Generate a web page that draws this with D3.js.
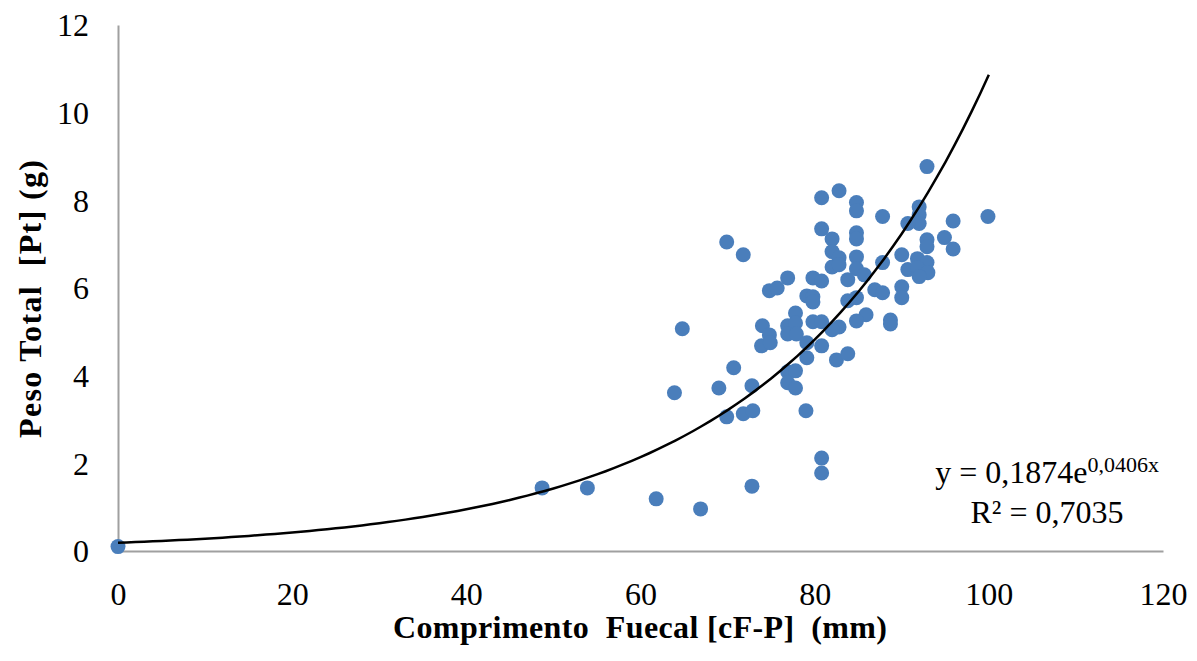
<!DOCTYPE html>
<html>
<head>
<meta charset="utf-8">
<script src="https://cdn.jsdelivr.net/npm/d3@7"></script>
<style>
  body { margin: 0; background: #fff; }
  svg { display: block; }
  text { font-family: "Liberation Serif", "Times New Roman", serif; fill: #000; }
  .title { white-space: pre; font-weight: bold; }
</style>
</head>
<body>
<div id="chart"></div>
<script>
// Comprimento fuecal (mm) vs peso total (g)
const comprimento = [
  0, 48.7, 53.9, 61.8, 66.9, 72.8, 80.8, 80.8, 63.9, 64.8,
  69.9, 71.8, 80.8, 82.8, 80.8, 82.0, 82.0, 82.0, 76.9, 74.8,
  75.7, 79.8, 80.8, 79.1, 79.8, 79.8, 77.8, 74.0, 76.9, 77.8,
  79.8, 80.8, 74.8, 76.9, 77.9, 73.9, 74.9, 79.1, 80.8, 79.1,
  82.5, 70.7, 76.9, 77.8, 76.9, 77.8, 72.8, 69.0, 69.9, 71.8,
  72.9, 79.0, 92.9, 84.8, 84.8, 87.8, 92.0, 92.0, 92.0, 90.7,
  95.9, 99.9, 84.8, 84.8, 82.8, 82.8, 84.8, 87.8, 90.0, 92.9,
  92.9, 94.9, 95.9, 91.8, 92.9, 90.7, 91.8, 93.0, 92.0, 84.8,
  85.7, 83.8, 86.9, 87.8, 90.0, 90.0, 83.8, 84.8, 85.9, 84.8,
  88.7, 88.7, 82.8, 82.0, 83.8
];
const pesoTotal = [
  0.1, 1.44, 1.44, 1.19, 0.96, 1.48, 2.12, 1.78, 3.61, 5.07,
  7.05, 6.76, 8.06, 8.22, 7.35, 7.12, 6.83, 6.48, 6.23, 5.94,
  6.0, 6.23, 6.16, 5.82, 5.8, 5.68, 5.43, 5.14, 5.14, 5.2,
  5.23, 5.23, 4.93, 4.95, 4.95, 4.68, 4.75, 4.75, 4.68, 4.41,
  4.36, 4.18, 4.09, 4.11, 3.84, 3.72, 3.77, 3.72, 3.06, 3.13,
  3.2, 3.2, 8.77, 7.95, 7.76, 7.63, 7.85, 7.67, 7.47, 7.47,
  7.53, 7.63, 7.26, 7.12, 6.69, 6.53, 6.71, 6.58, 6.76, 7.1,
  6.94, 7.15, 6.89, 6.67, 6.58, 6.42, 6.46, 6.35, 6.26, 6.44,
  6.3, 6.19, 5.96, 5.89, 6.03, 5.78, 5.71, 5.78, 5.39, 5.25,
  5.27, 5.18, 5.11, 5.05, 4.5
];
const xTicks = [0, 20, 40, 60, 80, 100, 120];
const yTicks = [0, 2, 4, 6, 8, 10, 12];
// exponential trendline y = a * e^(b x)
const trendA = 0.1874, trendB = 0.0406, trendXmax = 100;

const width = 1197, height = 661;
const svg = d3.select("#chart").append("svg")
  .attr("width", width)
  .attr("height", height);

const x = d3.scaleLinear().domain([0, 120]).range([118, 1163]);
const y = d3.scaleLinear().domain([0, 12]).range([551, 25]);

// axes: plain gray lines, no tick marks
const xAxis = d3.axisBottom(x).tickValues(xTicks).tickSize(0).tickPadding(0);
svg.append("g")
  .attr("transform", `translate(0,${y(0)})`)
  .call(xAxis)
  .call(g => g.select(".domain").attr("stroke", "#a0a0a0").attr("stroke-width", 2))
  .call(g => g.selectAll(".tick text")
    .attr("y", 54)
    .attr("dy", 0)
    .style("font-size", "32px")
    .style("font-family", "Liberation Serif, serif"));

const yAxis = d3.axisLeft(y).tickValues(yTicks).tickSize(0).tickPadding(29);
svg.append("g")
  .attr("transform", `translate(${x(0)},0)`)
  .call(yAxis)
  .call(g => g.select(".domain").attr("stroke", "#a0a0a0").attr("stroke-width", 2))
  .call(g => g.selectAll(".tick text")
    .attr("dy", "0.34em")
    .style("font-size", "32px")
    .style("font-family", "Liberation Serif, serif"));

const pts = comprimento.map((c, i) => [c, pesoTotal[i]]);
svg.append("g")
  .selectAll("circle")
  .data(pts)
  .join("circle")
  .attr("cx", d => x(d[0]))
  .attr("cy", d => y(d[1]))
  .attr("r", 7.5)
  .attr("fill", "#4a7ebb");

// trendline from the fitted coefficients
const trend = d3.range(0, trendXmax + 0.5, 1).map(v => [v, trendA * Math.exp(trendB * v)]);
svg.append("path")
  .datum(trend)
  .attr("fill", "none")
  .attr("stroke", "#000")
  .attr("stroke-width", 2.5)
  .attr("d", d3.line().x(d => x(d[0])).y(d => y(d[1])));

// equation label
const eq = svg.append("text")
  .attr("x", 1047)
  .attr("y", 483)
  .attr("text-anchor", "middle")
  .style("font-size", "32px");
eq.append("tspan").text("y = 0,1874e");
eq.append("tspan").attr("dy", -11).style("font-size", "22px").text("0,0406x");

svg.append("text")
  .attr("x", 1047)
  .attr("y", 523)
  .attr("text-anchor", "middle")
  .style("font-size", "32px")
  .text("R² = 0,7035");

// axis titles
svg.append("text")
  .attr("class", "title")
  .attr("x", 640)
  .attr("y", 638)
  .attr("text-anchor", "middle")
  .attr("textLength", 494)
  .attr("lengthAdjust", "spacing")
  .style("font-size", "32px")
  .text("Comprimento  Fuecal [cF-P]  (mm)");

svg.append("text")
  .attr("class", "title")
  .attr("transform", "translate(41,299) rotate(-90)")
  .attr("text-anchor", "middle")
  .attr("textLength", 278)
  .attr("lengthAdjust", "spacing")
  .style("font-size", "32px")
  .text("Peso Total  [Pt] (g)");
</script>
</body>
</html>
